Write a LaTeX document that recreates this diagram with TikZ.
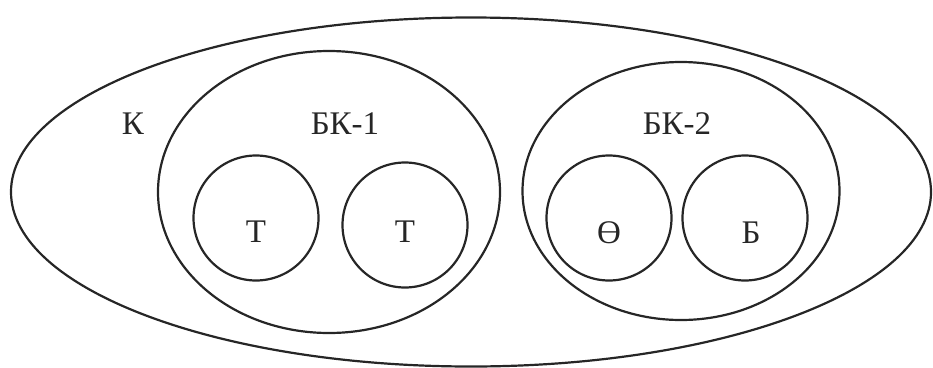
\documentclass[tikz,border=0pt]{standalone}
\usepackage{fontspec}
\setmainfont{Liberation Serif}
\usepackage{tikz}
\usetikzlibrary{positioning,shapes.geometric}
\tikzset{
    set line/.style={draw=black!85, line width=2.2pt},
    outer set/.style={ellipse, set line, inner sep=0pt},
    block set/.style={ellipse, set line, inner sep=0pt},
    elem set/.style={circle, set line, inner sep=0pt, minimum size=125pt},
    set label/.style={font=\fontsize{33}{36}\selectfont, text=black!85, inner sep=0pt}
}
\begin{document}
\begin{tikzpicture}[x=1pt, y=-1pt]
    \useasboundingbox (0,0) rectangle (933,367);

    % Outer set
    \node[outer set, minimum width=920pt, minimum height=349pt] (outer) at (471,192) {};
    \node[set label] (klabel) at (133,124) {К};

    % First block
    \node[block set, minimum width=342pt, minimum height=282pt] (bk1) at (329,192) {};
    \node[set label] (bk1label) at (345,124) {БК-1};
    \node[elem set] (t1) at (256,218) {};
    \node[elem set] (t2) at (405,225) {};
    \node[set label] at (t1.center) [yshift=-14pt] (t1label) {Т};
    \node[set label] at (t2.center) [yshift=-7pt] (t2label) {Т};

    % Second block
    \node[block set, minimum width=317pt, minimum height=258pt] (bk2) at (681,191) {};
    \node[set label] (bk2label) at (677,124) {БК-2};
    \node[elem set] (theta) at (609,218) {};
    \node[elem set] (b) at (745,218) {};
    \node[set label] at (theta.center) [yshift=-15pt] (thetalabel) {Ө};
    \node[set label] at (b.center) [yshift=-15pt, xshift=6pt] (blabel) {Б};
\end{tikzpicture}
\end{document}
